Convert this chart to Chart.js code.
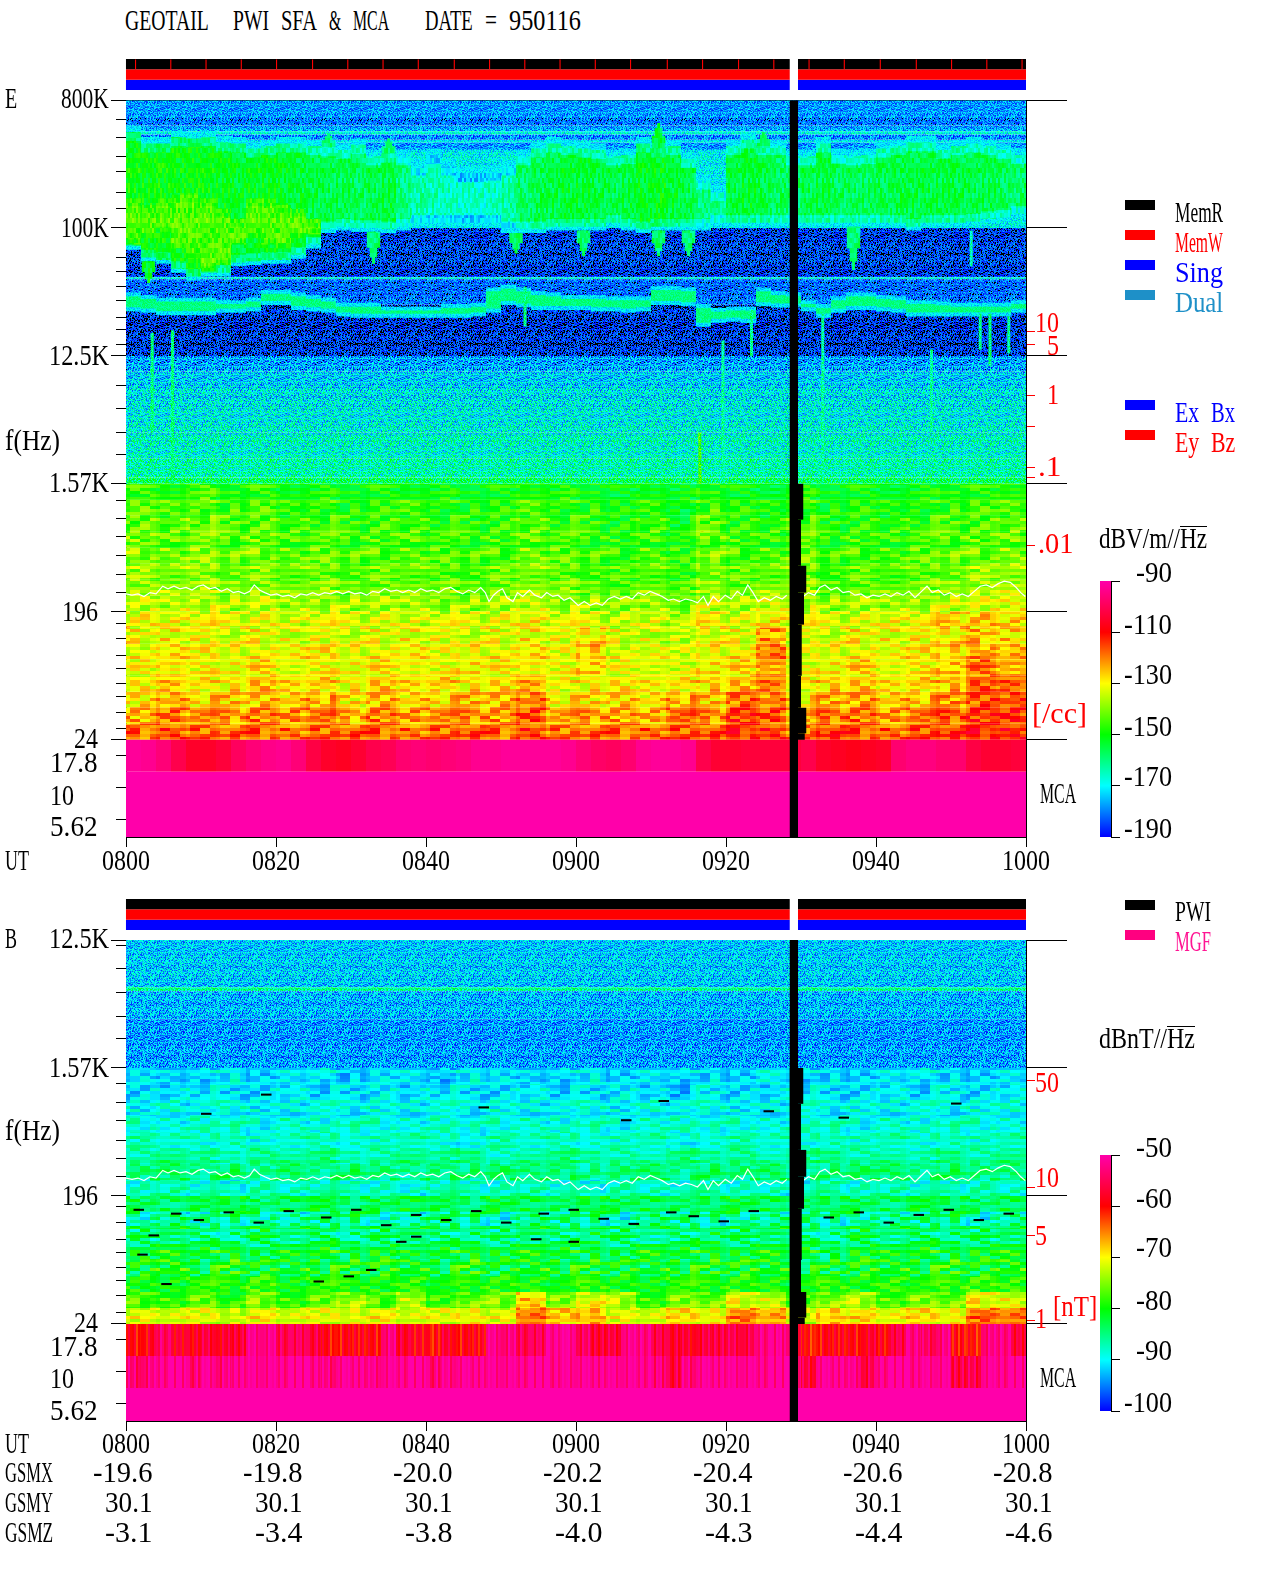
<!DOCTYPE html>
<html lang="en">
<head>
<meta charset="UTF-8">
<title>GEOTAIL PWI SFA & MCA 950116</title>
<script src="https://cdn.jsdelivr.net/npm/chart.js@4.4.0/dist/chart.umd.min.js"></script>
<style>
  html, body { margin: 0; background: #fff; }
  #page { position: relative; width: 1280px; height: 1593px; overflow: hidden; }
  canvas { position: absolute; }
  .lbl { position: absolute; font: 30px/30px 'Liberation Serif', serif; white-space: pre; transform-origin: left center; color: #000; }
  .sw { position: absolute; left: 1125px; width: 30px; height: 10px; }
  .root { display: inline-block; line-height: 21px; border-top: 1px solid #000; }
</style>
</head>
<body>
<div id="page"></div>
<script>
// y axis unit: 1 = one factor of 8 in frequency below 800 kHz, MCA channels are quarter steps below 24 Hz
const timeTicks = [0, 20, 40, 60, 80, 100, 120];
const utLabels = ['0800', '0820', '0840', '0900', '0920', '0940', '1000'];
const gsmx = ['-19.6', '-19.8', '-20.0', '-20.2', '-20.4', '-20.6', '-20.8'];
const gsmy = ['30.1', '30.1', '30.1', '30.1', '30.1', '30.1', '30.1'];
const gsmz = ['-3.1', '-3.4', '-3.8', '-4.0', '-4.3', '-4.4', '-4.6'];

const eMajor = [0, 1, 2, 3, 4, 5];
const eMinor = [.15, .29, .44, .56, .72, .85, 1.23, 1.34, 1.46, 1.57, 1.70, 1.79, 1.91, 2.23, 2.41, 2.60, 2.77, 3.13, 3.27, 3.41, 3.56, 3.71, 3.85, 4.09, 4.21, 4.34, 4.44, 4.56, 4.66, 4.79, 4.91, 5.125, 5.375, 5.625];
const eDensity = [1.81, 1.91, 2.31, 2.55, 2.875, 2.95, 3.48];
const bMajor = [2, 3, 4, 5];
const bMinor = [2.04, 2.22, 2.41, 2.60, 2.77, 3.12, 3.27, 3.41, 3.57, 3.71, 3.85, 4.08, 4.21, 4.34, 4.44, 4.56, 4.66, 4.78, 4.91, 5.125, 5.375, 5.625];
const bDensity = [3.10, 3.93, 4.31, 4.97];

// memory status strip
const stripRows = ['#000000', '#ff0000', '#0000ff'];
const stripSpans = [[0, 88.5], [89.6, 120]];
const stripMarks = [1.2, 5.9, 10.6, 15.3, 20, 24.8, 29.5, 34.2, 38.9, 43.7, 48.4, 53.1, 57.8, 62.5, 67.2, 72.1, 76.8, 81.6, 86.3, 91, 95.7, 100.5, 105.3, 110, 114.7, 119.4];

// data gap, the low frequency part steps out to the right
const gapTop = [0, 3, 3.28, 3.64, 3.85, 4.1, 4.5, 4.75, 4.95];
const gapBot = [5.76, 3.28, 3.64, 3.85, 4.1, 4.5, 4.75, 4.95, 5];
const gapEnd = [89.6, 90.3, 90, 90.7, 90.4, 90.1, 90, 90.7, 90.5];

// E field background bands
const eBandEdges = [0, .14, .2, .245, .27, .31, .335, .39, 1, 1.385, 1.4, 1.6, 2, 2.12, 2.25, 2.4, 2.6, 2.8, 2.95, 3];
const eBandLevels = [-178, -182, -177, -169, -180, -171, -178, -170, -186, -168, -182, -187, -177, -173, -171, -169, -167, -164, -159];

// continuum emission, one value per 2 minutes
const greenTop = [.25,.34,.34,.29,.30,.29,.33,.34,.38,.36,.34,.34,.36,.37,.39,.35,.44,.42,.44,.52,.43,.52,.57,.57,.56,.52,.44,.38,.34,.36,.38,.39,.44,.43,.34,.38,.36,.46,.63,.72,.36,.31,.36,.36,.44,.44,.34,.43,.44,.43,.38,.36,.33,.33,.39,.36,.34,.36,.39,.43];
const greenBot = [1.17,1.26,1.28,1.35,1.41,1.38,1.38,1.30,1.29,1.28,1.28,1.24,1.16,1.04,1.02,1.03,1.03,1.04,1.02,.99,.99,.99,.99,.99,.99,1.04,1.04,1.04,1.02,1.02,1.02,1.02,.99,1.02,1.04,1.02,1.02,1.02,1.02,.99,.99,.99,.99,.99,.99,.99,.99,.99,.99,.99,.99,.99,1.02,.99,.99,.99,.98,.96,.95,.92];
const greenLevel = [-150,-151,-150,-151,-150,-151,-152,-153,-152,-152,-153,-154,-155,-156,-156,-157,-156,-155,-160,-163,-164,-165,-166,-166,-165,-163,-158,-156,-155,-154,-154,-155,-156,-155,-153,-152,-154,-156,-160,-160,-155,-154,-155,-157,-158,-156,-155,-157,-157,-157,-156,-155,-155,-155,-155,-155,-156,-156,-157,-158];
const coreTop = [.83,.88,.83,.80,.80,.83,.91,.99,.83,.83,.88,.91,.99];
const coreBot = [1.09,1.04,.99,1.12,1.20,1.30,1.25,1.09,1.04,1.09,1.12,1.04,1.01];

// tapering notches and peaks on the edge of the continuum
const taperT = [3, 33, 52, 61, 71, 75, 97, 27, 35, 71, 85];
const taperFrom = [1.26, 1.03, 1.04, 1.02, 1.02, 1.02, .99, .37, .42, .38, .36];
const taperTo = [1.43, 1.28, 1.20, 1.22, 1.22, 1.22, 1.33, .26, .30, .18, .25];
const taperLevel = [-152, -158, -158, -158, -158, -158, -158, -158, -158, -155, -158];

// narrow band line near 50 kHz
const lineTop = [1.52,1.54,1.56,1.56,1.56,1.56,1.58,1.58,1.56,1.50,1.50,1.52,1.54,1.56,1.60,1.60,1.60,1.63,1.63,1.63,1.63,1.61,1.61,1.60,1.48,1.46,1.48,1.51,1.52,1.54,1.54,1.54,1.55,1.55,1.55,1.47,1.47,1.48,1.61,1.64,1.63,1.63,1.48,1.51,1.52,1.58,1.61,1.55,1.52,1.52,1.54,1.55,1.58,1.58,1.59,1.60,1.60,1.60,1.60,1.58];
const lineBot = [1.64,1.65,1.67,1.67,1.67,1.67,1.65,1.65,1.64,1.59,1.59,1.63,1.64,1.65,1.68,1.69,1.69,1.69,1.69,1.69,1.69,1.69,1.69,1.68,1.65,1.59,1.61,1.63,1.63,1.63,1.63,1.64,1.64,1.65,1.64,1.59,1.59,1.60,1.76,1.73,1.72,1.73,1.60,1.61,1.61,1.64,1.69,1.65,1.63,1.63,1.64,1.65,1.68,1.68,1.68,1.68,1.68,1.68,1.68,1.65];

// short vertical bursts
const spikeT = [3.3, 6, 53, 83.2, 92.7, 112.5, 113.7, 115, 117.5, 79.4, 76.3, 107.2, 76.6];
const spikeTop = [1.82, 1.8, 1.46, 1.64, 1.67, 1.02, 1.67, 1.67, 1.69, 1.88, 2.6, 1.95, 3];
const spikeBot = [2.6, 3, 1.77, 2, 3, 1.3, 1.95, 2.08, 1.98, 3, 3, 2.6, 3.6];
const spikeLevel = [-160, -160, -160, -162, -163, -165, -162, -160, -162, -162, -145, -163, -122];

// E field low frequency part, 16 rows from 1.57 kHz to 24 Hz, 30 columns of 4 minutes
const eLow = [
  [-152,-154,-151,-155,-153,-156,-155,-157,-155,-156,-156,-158,-156,-154,-155,-157,-158,-156,-158,-155,-157,-159,-155,-158,-156,-158,-156,-155,-154,-153],
  [-150,-152,-150,-153,-151,-155,-153,-156,-154,-153,-155,-156,-155,-152,-154,-155,-157,-155,-158,-153,-155,-157,-153,-157,-155,-157,-155,-154,-152,-152],
  [-149,-151,-148,-151,-150,-153,-152,-154,-152,-153,-154,-155,-153,-151,-153,-154,-156,-153,-157,-150,-154,-155,-151,-156,-154,-155,-153,-152,-151,-150],
  [-147,-149,-147,-150,-148,-151,-150,-152,-151,-150,-152,-153,-152,-149,-151,-153,-154,-152,-155,-149,-152,-153,-149,-154,-152,-153,-151,-150,-149,-148],
  [-145,-147,-145,-148,-146,-149,-148,-150,-149,-149,-150,-151,-150,-147,-149,-151,-152,-150,-153,-147,-150,-150,-147,-152,-150,-151,-149,-148,-147,-146],
  [-143,-145,-143,-146,-145,-147,-146,-148,-147,-147,-148,-149,-147,-145,-147,-149,-150,-148,-151,-145,-148,-147,-145,-150,-148,-149,-147,-146,-143,-143],
  [-141,-142,-141,-143,-142,-144,-143,-145,-144,-144,-145,-146,-144,-142,-144,-146,-147,-145,-148,-142,-145,-143,-142,-147,-145,-146,-144,-142,-140,-139],
  [-138,-139,-137,-140,-138,-141,-139,-141,-140,-140,-141,-142,-140,-138,-140,-141,-142,-141,-143,-138,-140,-137,-138,-142,-140,-141,-139,-138,-136,-135],
  [-133,-134,-133,-135,-134,-136,-134,-136,-135,-136,-135,-136,-134,-133,-135,-136,-137,-136,-138,-133,-135,-132,-134,-136,-135,-134,-133,-130,-128,-130],
  [-131,-130,-131,-133,-131,-133,-132,-133,-132,-131,-132,-133,-132,-130,-132,-128,-133,-134,-135,-131,-132,-122,-132,-133,-130,-131,-130,-128,-125,-127],
  [-129,-127,-128,-130,-128,-129,-127,-130,-128,-128,-130,-129,-128,-127,-130,-124,-130,-131,-132,-129,-127,-118,-131,-130,-128,-130,-127,-125,-120,-123],
  [-127,-124,-126,-127,-124,-128,-126,-127,-125,-126,-127,-125,-126,-125,-127,-123,-128,-128,-129,-125,-124,-118,-128,-126,-123,-127,-125,-122,-115,-119],
  [-125,-122,-124,-124,-120,-124,-122,-125,-121,-124,-122,-124,-123,-120,-126,-125,-124,-126,-124,-122,-120,-116,-125,-122,-121,-125,-122,-120,-112,-114],
  [-122,-118,-120,-120,-119,-120,-117,-123,-118,-121,-120,-119,-118,-114,-122,-122,-120,-122,-117,-120,-112,-114,-122,-118,-116,-120,-118,-116,-110,-110],
  [-118,-114,-116,-117,-114,-116,-114,-119,-114,-117,-116,-116,-116,-111,-118,-117,-117,-119,-113,-116,-108,-111,-119,-114,-113,-117,-114,-112,-108,-108],
  [-113,-111,-113,-114,-112,-114,-113,-113,-112,-114,-113,-112,-113,-110,-114,-114,-113,-113,-112,-112,-107,-109,-114,-110,-111,-113,-111,-110,-106,-107]
];
// row corrections after comparing the two pictures
const eLowTrim = [7, 7, 7, 6, 6, 5, 4, 3, 2, 0, -2, -3, -5, -6, -6, -5];
const eMca1 = [-92,-93,-96,-101,-105,-105,-103,-99,-96,-94,-93,-96,-102,-105,-106,-104,-101,-100,-97,-96,-97,-96,-95,-93,-93,-92,-92,-92,-92,-93,-96,-98,-99,-97,-93,-92,-92,-93,-101,-104,-104,-103,-103,-103,-103,-101,-105,-106,-107,-106,-105,-97,-95,-95,-97,-97,-102,-104,-104,-103];

// B field
const bBandEdges = [2, 2.37, 2.40, 2.62, 3];
const bBandLevels = [-92, -86, -93, -94.5];
const bLow = [
  [-91,-92,-91,-90,-92,-91,-90,-92,-91,-91,-92,-90,-91,-92,-91,-90,-92,-91,-91,-91,-92,-90,-91,-91,-92,-91,-90,-91,-92,-91],
  [-91,-91,-90,-91,-91,-90,-91,-91,-90,-91,-90,-91,-91,-90,-91,-91,-90,-91,-92,-90,-91,-91,-90,-91,-91,-90,-91,-90,-91,-90],
  [-90,-89,-90,-89,-90,-90,-89,-90,-89,-90,-89,-90,-89,-90,-90,-89,-90,-89,-90,-89,-90,-90,-89,-90,-89,-90,-89,-90,-89,-89],
  [-88,-89,-88,-88,-89,-88,-89,-88,-88,-89,-88,-89,-88,-88,-89,-88,-89,-88,-88,-89,-88,-89,-88,-88,-89,-88,-89,-88,-88,-89],
  [-87,-88,-88,-87,-89,-88,-87,-88,-88,-87,-88,-89,-87,-88,-87,-88,-88,-87,-89,-88,-87,-88,-88,-87,-88,-87,-88,-87,-88,-87],
  [-86,-85,-86,-87,-85,-86,-85,-87,-86,-85,-86,-85,-87,-86,-85,-86,-86,-87,-85,-86,-85,-87,-86,-85,-86,-86,-87,-85,-86,-85],
  [-85,-84,-85,-84,-86,-84,-85,-84,-85,-86,-84,-85,-84,-85,-84,-86,-85,-84,-85,-84,-85,-84,-86,-85,-84,-84,-85,-84,-85,-85],
  [-88,-87,-88,-89,-87,-88,-87,-88,-88,-89,-87,-88,-88,-87,-88,-89,-87,-88,-88,-87,-88,-88,-89,-87,-88,-87,-88,-88,-87,-88],
  [-83,-84,-83,-82,-84,-83,-82,-84,-83,-82,-83,-84,-82,-83,-84,-82,-83,-83,-84,-83,-82,-83,-84,-83,-83,-84,-82,-83,-84,-83],
  [-88,-87,-89,-88,-87,-89,-88,-87,-88,-89,-87,-88,-89,-87,-88,-88,-89,-87,-88,-89,-87,-88,-88,-89,-87,-88,-88,-87,-89,-88],
  [-86,-85,-86,-87,-85,-86,-85,-87,-86,-85,-86,-86,-87,-85,-86,-85,-86,-87,-86,-85,-86,-85,-86,-87,-85,-86,-85,-86,-86,-85],
  [-84,-83,-84,-83,-85,-84,-83,-84,-83,-85,-84,-83,-84,-83,-84,-84,-85,-83,-84,-83,-84,-83,-84,-85,-83,-84,-83,-84,-83,-83],
  [-82,-81,-82,-81,-82,-83,-81,-82,-81,-82,-82,-81,-83,-82,-81,-82,-82,-83,-81,-82,-81,-82,-82,-83,-81,-82,-81,-81,-82,-81],
  [-80,-81,-79,-80,-78,-81,-79,-80,-80,-79,-81,-80,-79,-80,-81,-79,-80,-81,-79,-80,-79,-80,-81,-79,-80,-79,-80,-79,-78,-79],
  [-77,-78,-76,-79,-75,-78,-76,-74,-77,-73,-78,-76,-75,-68,-75,-71,-73,-78,-75,-76,-71,-72,-77,-75,-73,-77,-75,-76,-70,-71],
  [-71,-72,-71,-72,-70,-72,-71,-71,-70,-72,-71,-70,-71,-65,-68,-67,-71,-72,-69,-70,-65,-67,-72,-68,-69,-71,-69,-70,-64,-65]
];
const bLowTrim = [0, 0, 0, 0, 0, 0, 0, 0, 0, 2, 2, 2, 1, 0, 0, 0];
const bMca1 = [-60,-59,-54,-58,-58,-57,-58,-57,-52,-52,-55,-55,-56,-60,-60,-59,-60,-53,-57,-59,-60,-58,-60,-59,-52,-53,-55,-55,-51,-51,-55,-57,-57,-52,-52,-56,-57,-58,-57,-56,-56,-56,-52,-52,-55,-61,-60,-59,-60,-58,-59,-56,-52,-55,-53,-60,-61,-53,-52,-57];
const bMca2 = [-54,-53,-51,-51,-53,-51,-53,-51,-51,-51,-51,-51,-51,-53,-51,-51,-52,-51,-51,-51,-53,-52,-51,-51,-51,-51,-51,-51,-51,-51,-51,-51,-51,-51,-51,-53,-56,-53,-51,-51,-51,-51,-51,-51,-51,-57,-51,-51,-52,-56,-51,-51,-51,-51,-51,-56,-56,-51,-51,-51];
// isolated drop-outs printed black in the B panel
const bDashT = [1,6,9,13,17,21,26,30,34,38,42,46,50,55,59,63,67,72,75,79,83,93,97,101,105,109,113,117,3,38,1.5,29,4.7,25,32,36,54,59,10,18,47,66,71,85,95,110];
const bDashD = [4.10,4.13,4.18,4.12,4.2,4.11,4.16,4.1,4.22,4.14,4.18,4.11,4.2,4.13,4.1,4.17,4.21,4.12,4.15,4.19,4.11,4.16,4.12,4.2,4.14,4.1,4.18,4.13,4.3,4.31,4.45,4.62,4.68,4.66,4.57,4.35,4.33,4.35,3.35,3.2,3.3,3.4,3.25,3.33,3.38,3.27];

// upper hybrid line
const hybridT = [0,.8,1.6,2.4,3.2,4,4.9,5.6,6.4,7.2,8,8.8,9.6,10.3,11.1,11.9,12.7,13.5,14.3,15,15.8,16.5,17.1,17.8,18.5,19.3,20.1,20.9,21.7,22.5,23.3,24.1,24.9,25.7,26.5,27.3,28.1,28.9,29.7,30.5,31.3,32.1,32.9,33.7,34.5,35.3,36.1,36.9,37.7,38.5,39.3,40.1,40.9,41.7,42.5,43.3,44.1,44.9,45.7,46.5,47.3,47.9,48.4,49,49.6,50.2,50.8,51.6,52.2,52.9,53.8,54.5,55.4,56.1,56.9,57.6,58.4,59.2,60.3,61.1,61.9,62.7,63.5,64.3,65.1,65.9,66.7,67.5,68.3,69.1,69.9,70.7,71.5,72.3,73,73.8,74.6,75.4,76.2,77,77.6,78.3,79,79.9,80.7,81.5,82.2,82.9,83.6,84.3,85.1,85.9,86.7,87.5,88.1,88.5,90.3,91,91.8,92.5,93.2,94,94.8,95.6,96.4,97.2,98,98.8,99.6,100.4,101.2,102,102.8,103.6,104.4,105.2,105.9,106.8,107.5,108.3,109.1,109.9,110.7,111.5,112.3,113.1,113.9,114.7,115.5,116.3,117.1,117.9,118.7,119.3,119.9];
const hybridD = [3.86,3.87,3.86,3.88,3.85,3.86,3.80,3.82,3.80,3.82,3.81,3.83,3.80,3.79,3.82,3.81,3.84,3.82,3.85,3.84,3.86,3.84,3.79,3.83,3.85,3.87,3.86,3.88,3.87,3.89,3.86,3.87,3.85,3.87,3.85,3.86,3.84,3.86,3.84,3.86,3.85,3.87,3.84,3.85,3.82,3.84,3.83,3.85,3.83,3.85,3.82,3.84,3.83,3.85,3.82,3.81,3.84,3.86,3.83,3.85,3.81,3.85,3.92,3.87,3.84,3.82,3.89,3.92,3.85,3.88,3.83,3.87,3.89,3.85,3.88,3.87,3.91,3.89,3.95,3.92,3.95,3.93,3.95,3.90,3.88,3.90,3.88,3.90,3.85,3.87,3.84,3.86,3.88,3.91,3.90,3.92,3.90,3.91,3.93,3.88,3.95,3.88,3.92,3.87,3.90,3.84,3.87,3.79,3.85,3.92,3.89,3.91,3.88,3.90,3.87,null,3.88,3.85,3.87,3.81,3.79,3.83,3.81,3.85,3.84,3.87,3.86,3.89,3.87,3.88,3.86,3.88,3.85,3.87,3.84,3.89,3.85,3.80,3.85,3.83,3.87,3.85,3.88,3.86,3.88,3.84,3.80,3.79,3.81,3.78,3.76,3.77,3.81,3.85,3.88];

const eBarTicks = [-190, -170, -150, -130, -110, -90];
const bBarTicks = [-100, -90, -80, -70, -60, -50];

const page = document.getElementById('page');
const black = '#000';

// same jet-like colour scale for both panels, below the range prints black
const stops = [[0, 0, 0, 255], [.2, 0, 255, 255], [.4, 0, 255, 0], [.6, 255, 255, 0], [.8, 255, 0, 0], [1, 255, 0, 170]];
function rgb(v, lo, hi) {
  const p = (v - lo) / (hi - lo);
  if (p < 0) return [0, 0, 0];
  for (let i = 1; i < stops.length; i++) {
    if (p <= stops[i][0]) {
      const a = stops[i - 1], b = stops[i], f = (p - a[0]) / (b[0] - a[0]);
      return [a[1] + (b[1] - a[1]) * f, a[2] + (b[2] - a[2]) * f, a[3] + (b[3] - a[3]) * f];
    }
  }
  return stops[5].slice(1);
}

// dither tile so a cell looks like the instrument's pixels, cell value stays the mean
const grain = [.1,-.6,.9,-.2,.4,-.9,.3,.7,-.4,0,-.7,.5,-1,.2,.8,-.3,.6,-.5,1,-.1,.3,-.8,.5,-.2,.7,-.6,.1,-.4,.9,-.9,.2,.4,-.3,.6,-.7,0,.5];
const tiles = {};
function tile(chart, v, lo, hi, look) {
  const key = [Math.round(v), lo, look.amp, look.w, look.h].join();
  if (tiles[key]) return tiles[key];
  const c = document.createElement('canvas');
  c.width = 120; c.height = 90;
  const g = c.getContext('2d'), img = g.createImageData(120, 90);
  for (let y = 0; y < 90; y++) for (let x = 0; x < 120; x++) {
    const cx = Math.floor(x / look.w), cy = Math.floor(y / look.h);
    const j = grain[(cx * cx * 3 + cy * cy * 5 + cx * cy * 7 + cx * 11 + cy * 13) % 37];
    const col = rgb(Math.round(v) + j * look.amp, lo, hi), o = (y * 120 + x) * 4;
    img.data[o] = col[0]; img.data[o + 1] = col[1]; img.data[o + 2] = col[2]; img.data[o + 3] = 255;
  }
  g.putImageData(img, 0, 0);
  return tiles[key] = chart.ctx.createPattern(c, 'repeat');
}

// bar controller whose bars have an explicit start and end on the index scale
class SpanBar extends Chart.BarController {
  _calculateBarIndexPixels(index) {
    const d = this.getDataset().data[index], s = this._cachedMeta.iScale;
    const a = s.getPixelForValue(d.x0), b = s.getPixelForValue(d.x1);
    return { base: a, head: b, center: (a + b) / 2, size: b - a };
  }
}
SpanBar.id = 'spanBar';
SpanBar.defaults = { ...Chart.BarController.defaults, grouped: false };
Chart.register(SpanBar);

const cell = (x0, x1, top, bot, v) => ({ x: (x0 + x1) / 2, x0, x1, y: [top, bot], v });

function newChart(left, top, w, h, config) {
  const c = document.createElement('canvas');
  c.width = w; c.height = h;
  c.style.left = left + 'px'; c.style.top = top + 'px';
  page.appendChild(c);
  config.options = Object.assign({
    responsive: false, animation: false, devicePixelRatio: 1, events: [],
    plugins: { legend: { display: false }, tooltip: { enabled: false } }
  }, config.options);
  return new Chart(c, config);
}

function fixedTicks(values) {
  return s => { s.ticks = values.map(value => ({ value })); };
}

function panel(top, bottom, minD, maxD, lo, hi, layers, major, minor, density) {
  let n = 0;
  const ds = layers.map(l => {
    if (l.line) return { type: 'line', data: l.line, borderColor: '#fff', borderWidth: 1.2, pointRadius: 0, order: -(++n), spanGaps: false, xAxisID: 'x', yAxisID: 'y' };
    return {
      data: l.cells, order: -(++n), xAxisID: 'x', yAxisID: 'y', borderWidth: 0,
      backgroundColor: c => l.color || (c.raw ? tile(c.chart, c.raw.v, lo, hi, l.look) : black)
    };
  });
  const tickAxis = (position, values, len, color, width, weight, line) => ({
    position, reverse: true, min: minD, max: maxD, weight,
    afterBuildTicks: fixedTicks(values), afterFit: s => { s.width = width; },
    ticks: { display: false, autoSkip: false },
    grid: { drawOnChartArea: false, tickLength: len, tickColor: color },
    border: { display: line, color: black }
  });
  return newChart(0, top - 2, 1280, bottom - top + 17, {
    type: 'spanBar',
    data: { datasets: ds },
    options: {
      layout: { padding: { top: 2 } },
      scales: {
        x: {
          type: 'linear', position: 'bottom', min: 0, max: 120, offset: false,
          afterBuildTicks: fixedTicks(timeTicks), afterFit: s => { s.height = 15; },
          ticks: { display: false },
          grid: { offset: false, drawOnChartArea: false, tickLength: 10, tickColor: black },
          border: { color: black }
        },
        xTop: {
          type: 'linear', position: 'top', min: 0, max: 120, offset: false, afterFit: s => { s.height = 0; },
          ticks: { display: false }, grid: { display: false }, border: { color: black }
        },
        y: tickAxis('left', major, 15, black, 126, 1, true),
        yMinor: tickAxis('left', minor, 10, black, 0, 0, false),
        yRight: tickAxis('right', major, 41, black, 254, 1, true),
        yRed: tickAxis('right', density, 9, '#ff0000', 0, 0, false)
      }
    }
  });
}

function bands(edges, levels) {
  return levels.map((v, i) => cell(0, 120, edges[i], edges[i + 1], v));
}
function columns(tops, bots, levels, padTop, padBot, shift) {
  return tops.map((t, i) => cell(2 * i, 2 * i + 2, t + padTop, bots[i] + padBot, (Array.isArray(levels) ? levels[i] : levels) + (shift || 0)));
}
function grid(rows, firstD, trim) {
  const out = [];
  rows.forEach((r, j) => r.forEach((v, i) => out.push(cell(4 * i, 4 * i + 4, firstD + j * .125, firstD + (j + 1) * .125, v + trim[j]))));
  return out;
}
function mcaRow(values, d0, d1) {
  return values.map((v, i) => cell(2 * i, 2 * i + 2, d0, d1, v));
}
function tapers() {
  const out = [];
  taperT.forEach((t, i) => {
    const reach = taperTo[i] - taperFrom[i];
    [[.9, .5], [.5, .8], [.2, 1]].forEach(s => out.push(cell(t - s[0], t + s[0], taperFrom[i], taperFrom[i] + reach * s[1], taperLevel[i])));
  });
  return out;
}
const gapCells = gapTop.map((t, i) => cell(88.5, gapEnd[i], t, gapBot[i], 0));
const hybridLine = hybridT.map((x, i) => ({ x, y: hybridD[i] }));

const speck = { amp: 10, w: 1, h: 1 }, streaky = { amp: 6, w: 2, h: 5 }, soft = { amp: 9, w: 1, h: 1 }, block = { amp: 8, w: 10, h: 3 }, flat = { amp: 0, w: 1, h: 1 };

panel(100, 837.3, 0, 5.76, -190, -90, [
  { cells: bands(eBandEdges.slice(0, 13), eBandLevels.slice(0, 12)), look: speck },
  { cells: bands(eBandEdges.slice(12), eBandLevels.slice(12)), look: { amp: 14, w: 1, h: 1 } },
  { cells: columns(lineTop, lineBot, -172, -.015, .012), look: { amp: 6, w: 1, h: 1 } },
  { cells: columns(lineTop, lineBot, -160, .015, -.02), look: { amp: 4, w: 1, h: 1 } },
  { cells: columns(greenTop, greenBot, -171, -.05, 0), look: { amp: 6, w: 1, h: 1 } },
  { cells: tapers(), look: streaky },
  { cells: columns(greenTop, greenBot, greenLevel, .0, -.03, -8), look: streaky },
  { cells: columns(greenTop, greenBot, greenLevel, .07, -.09), look: streaky },
  { cells: columns(coreTop, coreBot, -147, -.06, .04), look: streaky },
  { cells: columns(coreTop, coreBot, -144, 0, 0), look: streaky },
  { cells: spikeT.map((t, i) => cell(t, t + .4, spikeTop[i], spikeBot[i], spikeLevel[i])), look: soft },
  { cells: grid(eLow, 3, eLowTrim), look: block },
  { cells: mcaRow(eMca1, 5, 5.25), look: flat },
  { cells: [cell(0, 120, 5.25, 5.76, -90)], look: flat },
  { line: hybridLine },
  { cells: gapCells, color: black }
], eMajor, eMinor, eDensity);

panel(940.3, 1421.3, 2, 5.758, -100, -50, [
  { cells: bands(bBandEdges, bBandLevels), look: { amp: 6, w: 1, h: 1 } },
  { cells: grid(bLow, 3, bLowTrim), look: { amp: 3.5, w: 10, h: 3 } },
  { cells: grid(bLow.slice(9, 13), 4.125, bLowTrim.slice(9, 13)), look: { amp: 6, w: 10, h: 3 } },
  { cells: bDashT.map((t, i) => cell(t, t + 1.4, bDashD[i], bDashD[i] + .016, 0)), color: black },
  { cells: mcaRow(bMca1, 5, 5.25), look: { amp: 3.5, w: 2, h: 90 } },
  { cells: mcaRow(bMca2, 5.25, 5.5), look: { amp: 4, w: 2, h: 90 } },
  { cells: [cell(0, 120, 5.5, 5.758, -50)], look: flat },
  { line: hybridLine },
  { cells: gapCells, color: black }
], bMajor, bMinor, bDensity);

// memory status strips
function strip(top, withMarks) {
  const ds = [];
  if (withMarks) ds.push({ data: stripMarks.map(t => cell(t, t + .15, .05, 1, 0)), backgroundColor: '#ff0000', borderWidth: 0 });
  stripRows.forEach((color, r) => {
    ds.push({ data: stripSpans.map(s => cell(s[0], s[1], r, r + 1, 0)), backgroundColor: color, borderWidth: 0 });
  });
  newChart(0, top, 1280, 31, {
    type: 'spanBar', data: { datasets: ds },
    options: {
      layout: { padding: { left: 125, right: 254 } },
      scales: {
        x: { type: 'linear', min: -.13, max: 120, offset: false, display: false },
        y: { type: 'linear', min: 0, max: 3, reverse: true, display: false }
      }
    }
  });
}
strip(59, true);
strip(899, false);

// colour bars
function colourBar(top, lo, hi, ticks) {
  newChart(1100, top - 2, 24, 260.6, {
    type: 'spanBar',
    data: { datasets: [{
      data: [cell(0, 1, lo, hi, 0)], borderWidth: 0,
      backgroundColor: c => {
        const s = c.chart.scales.y;
        if (!s || !c.chart.chartArea) return black;
        const g = c.chart.ctx.createLinearGradient(0, s.getPixelForValue(lo), 0, s.getPixelForValue(hi));
        stops.forEach(st => g.addColorStop(st[0], `rgb(${st[1]},${st[2]},${st[3]})`));
        return g;
      }
    }] },
    options: {
      layout: { padding: { top: 2, bottom: 2 } },
      scales: {
        x: { type: 'linear', min: 0, max: 1, offset: false, display: false },
        y: {
          type: 'linear', position: 'right', min: lo, max: hi,
          afterBuildTicks: fixedTicks(ticks), afterFit: s => { s.width = 13; },
          ticks: { display: false },
          grid: { drawOnChartArea: false, tickLength: 9, tickColor: black },
          border: { color: black }
        }
      }
    }
  });
}
colourBar(580.7, -190, -90, eBarTicks);
colourBar(1154.7, -100, -50, bBarTicks);

// text is squeezed to the 12px character pitch of the original plot
function text(str, x, y, color, html, pitch) {
  const p = pitch || 12;
  let idx = 0;
  str.split(/( +)/).forEach(tok => {
    if (tok.trim()) {
      const s = document.createElement('span');
      s.className = 'lbl';
      s.style.left = (x + idx * p) + 'px';
      s.style.top = (y - 15) + 'px';
      if (color) s.style.color = color;
      if (html) s.innerHTML = html; else s.textContent = tok;
      page.appendChild(s);
      s.style.transform = `scaleX(${p * tok.length / s.offsetWidth})`;
    }
    idx += tok.length;
  });
}
function right(str, edge, y, color) { text(str, edge - 12 * str.length, y, color); }

function swatch(y, color) {
  const d = document.createElement('div');
  d.className = 'sw'; d.style.top = y + 'px'; d.style.background = color;
  page.appendChild(d);
}

const red = '#ff0000', blue = '#0000ff', steel = '#1e90c8', pink = '#ff1493';

text('GEOTAIL  PWI SFA & MCA   DATE = 950116', 124.5, 20);

text('E', 5, 98);
right('800K', 109, 98); right('100K', 109, 227); right('12.5K', 109, 355); right('1.57K', 109, 482);
right('196', 98, 611); right('24', 98, 738); right('17.8', 98, 762); right('10', 74, 795); right('5.62', 98, 826);
text('f(Hz)', 5, 440, null, null, 11);
text('UT', 5, 860);
utLabels.forEach((l, i) => text(l, 126 + 7.5 * timeTicks[i] - 24, 860));

text('B', 5, 938);
right('12.5K', 109, 938); right('1.57K', 109, 1067); right('196', 98, 1195); right('24', 98, 1322);
right('17.8', 98, 1346); right('10', 74, 1378); right('5.62', 98, 1410);
text('f(Hz)', 5, 1130, null, null, 11);
text('UT', 5, 1443);
text('GSMX', 5, 1472); text('GSMY', 5, 1502); text('GSMZ', 5, 1532);
timeTicks.forEach((t, i) => {
  const x = 126 + 7.5 * t;
  text(utLabels[i], x - 24, 1443);
  right(gsmx[i], x + 27, 1472);
  right(gsmy[i], x + 27, 1502);
  right(gsmz[i], x + 27, 1532);
});

// density scale in red
text('10', 1035, 322, red); text('5', 1047, 345, red); text('1', 1047, 394, red);
text('.1', 1038, 466, red); text('.01', 1038, 543, red); text('[/cc]', 1032, 713, red, null, 11);
text('MCA', 1040, 793);
text('50', 1035, 1082, red); text('10', 1035, 1177, red); text('5', 1035, 1235, red); text('1', 1035, 1318, red);
text('[nT]', 1053, 1306, red, null, 11);
text('MCA', 1040, 1377);

// legends
swatch(200, black); swatch(230, red); swatch(260, blue); swatch(290, steel);
text('MemR', 1175, 212); text('MemW', 1175, 242, red); text('Sing', 1175, 272, blue); text('Dual', 1175, 302, steel);
swatch(400, blue); swatch(430, red);
text('Ex Bx', 1175, 412, blue); text('Ey Bz', 1175, 442, red);
swatch(900, black); swatch(930, '#ff0080');
text('PWI', 1175, 911); text('MGF', 1175, 941, pink);

// colour bar units and labels
text('dBV/m//Hz', 1099, 538, null, 'dBV/m//<span class="root">Hz</span>');
text('dBnT//Hz', 1099, 1038, null, 'dBnT//<span class="root">Hz</span>');
[572, 624, 674, 726, 776, 828].forEach((y, i) => right(String(eBarTicks[5 - i]), 1172, y));
[1147, 1198, 1247, 1300, 1350, 1402].forEach((y, i) => right(String(bBarTicks[5 - i]), 1172, y));
</script>
</body>
</html>
